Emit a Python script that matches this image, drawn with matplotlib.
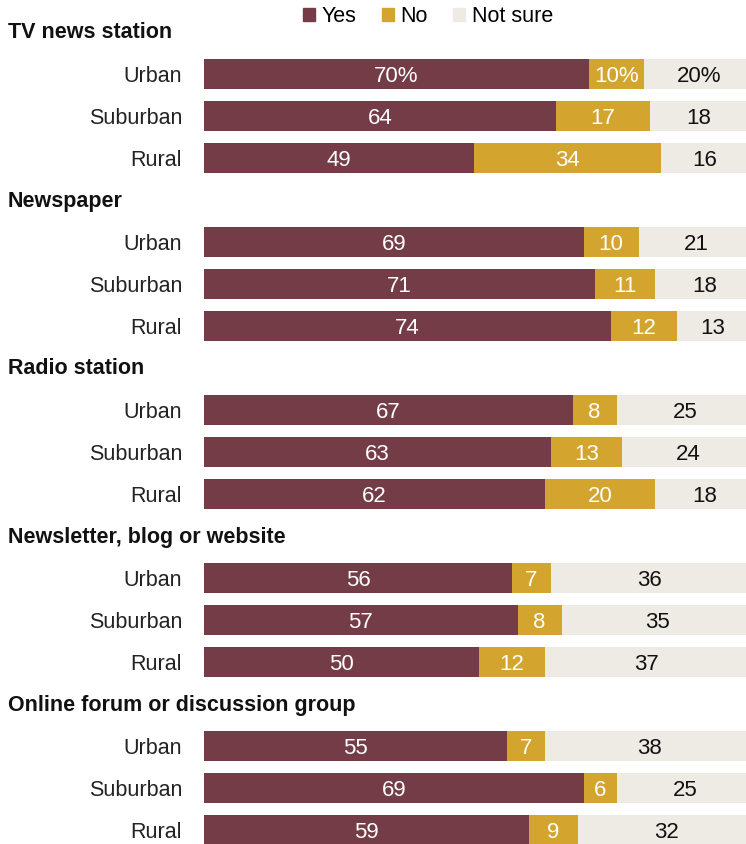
import matplotlib.pyplot as plt
from matplotlib.patches import Patch

plt.rcParams['font.family'] = ['Liberation Sans', 'DejaVu Sans']

# Survey shares (%) by community type
sources = ['TV news station', 'Newspaper', 'Radio station',
           'Newsletter, blog or website', 'Online forum or discussion group']
areas = ['Urban', 'Suburban', 'Rural']
yes = [[70, 64, 49], [69, 71, 74], [67, 63, 62], [56, 57, 50], [55, 69, 59]]
no = [[10, 17, 34], [10, 11, 12], [8, 13, 20], [7, 8, 12], [7, 6, 9]]
not_sure = [[20, 18, 16], [21, 18, 13], [25, 24, 18], [36, 35, 37], [38, 25, 32]]

c_yes = '#733c47'
c_no = '#d3a52f'
c_ns = '#edebe4'

W, H = 746, 844
fig = plt.figure(figsize=(W / 100, H / 100), dpi=100)
# bar axes: starts at x=204px, 100% spans 550px (runs past the right edge)
ax = fig.add_axes([204 / W, 0, 550 / W, 1])
ax.set_xlim(0, 100)
ax.set_ylim(H, 0)
ax.axis('off')

row_top, row_step, bar_h = 74, 42, 30
px = 100 / 550  # data units per pixel
dy = 2  # nudge text down to sit on bar centre


def fmt(v, first):
    return f'{v}%' if first else f'{v}'


for g, src in enumerate(sources):
    head_y = row_top + row_step * (4 * g - 1) - 1
    ax.text(-196 * px, head_y + dy, src, ha='left', va='center', fontsize=15.5,
            fontweight='bold', color='#111111', clip_on=False)
    for r, area in enumerate(areas):
        y = row_top + row_step * (4 * g + r)
        vals = [yes[g][r], no[g][r], not_sure[g][r]]
        left = 0
        for v, c, tc in zip(vals, [c_yes, c_no, c_ns], ['white', 'white', '#111111']):
            ax.barh(y, v, left=left, height=bar_h, color=c, edgecolor='none')
            ax.text(left + v / 2, y + dy, fmt(v, g == 0 and r == 0), ha='center',
                    va='center', fontsize=16, color=tc)
            left += v
        ax.text(-22 * px, y + dy, area, ha='right', va='center', fontsize=15.5,
                color='#222222', clip_on=False)

handles = [Patch(color=c_yes, label='Yes'), Patch(color=c_no, label='No'),
           Patch(color=c_ns, label='Not sure')]
fig.legend(handles=handles, loc='center', bbox_to_anchor=(428 / W, 1 - 17 / H),
           ncol=3, frameon=False, fontsize=15.5, handlelength=0.55,
           handleheight=0.55, handletextpad=0.3, columnspacing=1.2,
           borderpad=0, borderaxespad=0)

fig.savefig('out.png', dpi=100)
